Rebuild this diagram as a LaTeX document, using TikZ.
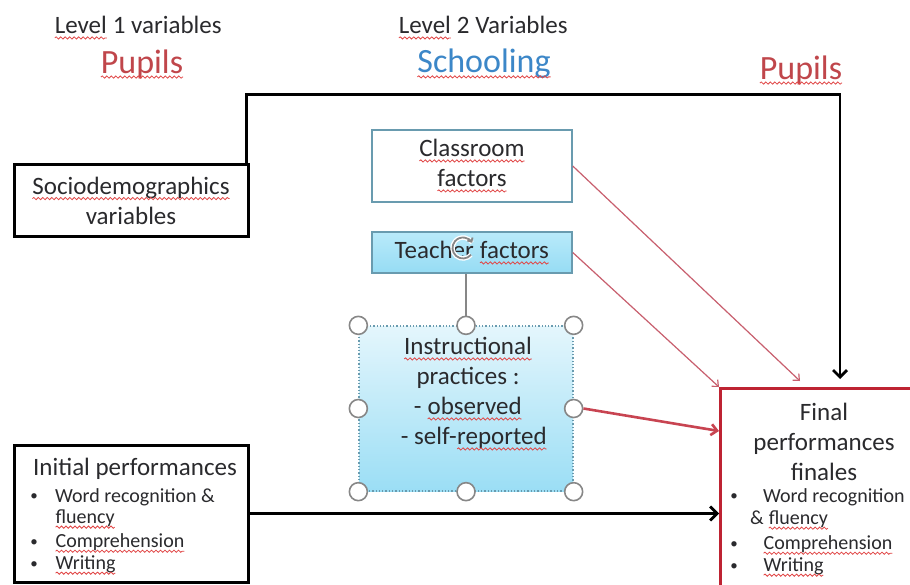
\documentclass[tikz,border=0pt]{standalone}
\usepackage{fontspec}
\setmainfont{Carlito}
\usetikzlibrary{arrows.meta,calc,decorations.pathmorphing}
\definecolor{txt}{RGB}{42,42,45}
\definecolor{pupred}{RGB}{192,70,75}
\definecolor{schblue}{RGB}{60,135,200}
\definecolor{sqred}{RGB}{225,70,70}
\definecolor{boxedge}{RGB}{105,155,175}
\definecolor{arrred}{RGB}{200,95,110}
\definecolor{finred}{RGB}{190,35,50}
\definecolor{handle}{RGB}{135,135,135}
\definecolor{ttop}{RGB}{185,234,250}
\definecolor{tbot}{RGB}{150,220,244}
\definecolor{itop}{RGB}{228,246,252}
\definecolor{ibot}{RGB}{155,222,245}
\newcommand\sq[1]{\tikz[baseline=(sqw.base),x=1pt,y=1pt]{\node[rectangle,inner sep=0pt,outer sep=0pt,
  minimum width=0pt,minimum height=0pt,anchor=center,draw=none,fill=none,align=left] (sqw) {#1};
  \draw[sqred, solid, line width=0.8pt, decorate, decoration={snake, amplitude=1.1pt, segment length=4.5pt}]
  ([yshift=-4pt]sqw.base west) -- ([yshift=-4pt]sqw.base east);}}
\begin{document}
\begin{tikzpicture}[x=1pt,y=-1pt, color=txt,
  every node/.style={inner sep=0pt},
  bigtxt/.style={font=\fontsize{25}{30}\selectfont},
  headtxt/.style={font=\fontsize{34}{40}\selectfont},
  itemtxt/.style={font=\fontsize{20}{24}\selectfont, anchor=west},
  bul/.style={font=\fontsize{15}{18}\selectfont, anchor=center},
  blackbox/.style={draw=black, line width=3pt, rectangle, fill=white},
  lightbox/.style={draw=boxedge, line width=1.5pt, rectangle, fill=white},
  teachbox/.style={draw=boxedge, line width=1.5pt, rectangle, top color=ttop, bottom color=tbot},
  instbox/.style={draw=boxedge, line width=1.3pt, dotted, rectangle, top color=itop, bottom color=ibot},
  finbox/.style={draw=finred, line width=2.8pt, rectangle, fill=white},
  hdl/.style={circle, draw=handle, line width=1.6pt, fill=white, minimum size=18pt},
  blkarr/.style={draw=black, line width=2.8pt, -{Straight Barb[length=7pt,width=14pt]}},
  redarr/.style={draw=arrred, line width=1.2pt, -{Straight Barb[length=5pt,width=9pt]}},
  redthick/.style={draw=finred!85, line width=2.6pt, -{Straight Barb[length=6pt,width=11pt]}}
]
\useasboundingbox (0,0) rectangle (910,584);
\fill[white] (0,0) rectangle (910,584);

% headings
\node[bigtxt] (l1) at (138,28) {\sq{Level} 1 variables};
\node[headtxt, text=pupred] (p1) at (142,64) {\sq{Pupils}};
\node[bigtxt] (l2) at (483,28) {\sq{Level} 2 Variables};
\node[headtxt, text=schblue] (sch) at (484,64) {\sq{Schooling}};
\node[headtxt, text=pupred] (p2) at (801,70) {\sq{Pupils}};

% final box (extends past the right edge)
\begin{scope}
\clip (0,0) rectangle (910,584);
\node[finbox, minimum width=200pt, minimum height=205pt, anchor=north west] (final) at (719,387) {};
\end{scope}

% boxes
\node[blackbox, minimum width=234pt, minimum height=72pt] (soc) at (131,200) {};
\node[bigtxt, align=center] (soctxt) at (131,201) {\sq{Sociodemographics}\\variables};
\node[lightbox, minimum width=200pt, minimum height=72pt] (class) at (472,166) {};
\node[bigtxt, align=center] (classtxt) at (472,166) {\sq{Classroom}\\\sq{factors}};
\node[teachbox, minimum width=200pt, minimum height=41pt] (teach) at (472,252.5) {};
\node[bigtxt] (teachtxt) at (472,253) {Teacher \sq{factors}};
\node[instbox, minimum width=214pt, minimum height=165pt] (inst) at (466,408.5) {};
\node[bigtxt, align=center] (insttxt) at (468,394)
  {\sq{Instructional}\\practices :\\- \sq{observed}\\\hspace*{12pt}- self-\sq{reported}};
\node[blackbox, minimum width=234pt, minimum height=137pt] (init) at (131,513.5) {};

% initial performances text
\node[bigtxt] (inith) at (135,469) {Initial performances};
\node[bul] (ib1) at (34,497) {\textbullet};
\node[itemtxt] (i1) at (55,497) {Word recognition \&};
\node[itemtxt] (i1b) at (55,519) {\sq{fluency}};
\node[bul] (ib2) at (34,543) {\textbullet};
\node[itemtxt] (i2) at (55,543) {\sq{Comprehension}};
\node[bul] (ib3) at (34,565) {\textbullet};
\node[itemtxt] (i3) at (55,565) {\sq{Writing}};

% final performances text
\node[bigtxt, align=center] (finh) at (824,442) {Final\\performances\\finales};
\node[bul] (fb1) at (734,497) {\textbullet};
\node[itemtxt] (f1) at (763,497) {Word recognition};
\node[itemtxt] (f1b) at (750,520) {\& \sq{fluency}};
\node[bul] (fb2) at (734,545) {\textbullet};
\node[itemtxt] (f2) at (763,545) {\sq{Comprehension}};
\node[bul] (fb3) at (734,567) {\textbullet};
\node[itemtxt] (f3) at (763,567) {\sq{Writing}};

% selection handles of the instructional box
\node[hdl] (h1) at (inst.north west) {};
\node[hdl] (h2) at (inst.north) {};
\node[hdl] (h3) at (inst.north east) {};
\node[hdl] (h4) at (inst.west) {};
\node[hdl] (h5) at (inst.east) {};
\node[hdl] (h6) at (inst.south west) {};
\node[hdl] (h7) at (inst.south) {};
\node[hdl] (h8) at (inst.south east) {};
\coordinate (rot) at (463,248);
\draw[handle, line width=1.6pt] (h2.north) -- (h2.north |- teach.south);
\draw[white, line width=4.5pt] ($(rot)+(40:10.5)$) arc (40:330:10.5);
\draw[handle, line width=1.8pt, -{Straight Barb[length=3pt,width=6pt]}] ($(rot)+(40:10.5)$) arc (40:330:10.5);

% connectors
\coordinate (cin) at ($(final.north west)+(81,-6)$);
\coordinate (iin) at ($(final.north west)+(0,44)$);
\coordinate (sin) at ($(final.north west)+(121,-8)$);
\draw[redarr] (class.east) -- (cin);
\draw[redarr] (teach.east) -- (final.north west);
\draw[redthick] (h5.east) -- (iin);
\draw[blkarr] ([xshift=-3pt]soc.north east) -- ++(0,-68) -| (sin);
\draw[blkarr] (init.east) -- (init.east -| final.west);
\end{tikzpicture}
\end{document}
